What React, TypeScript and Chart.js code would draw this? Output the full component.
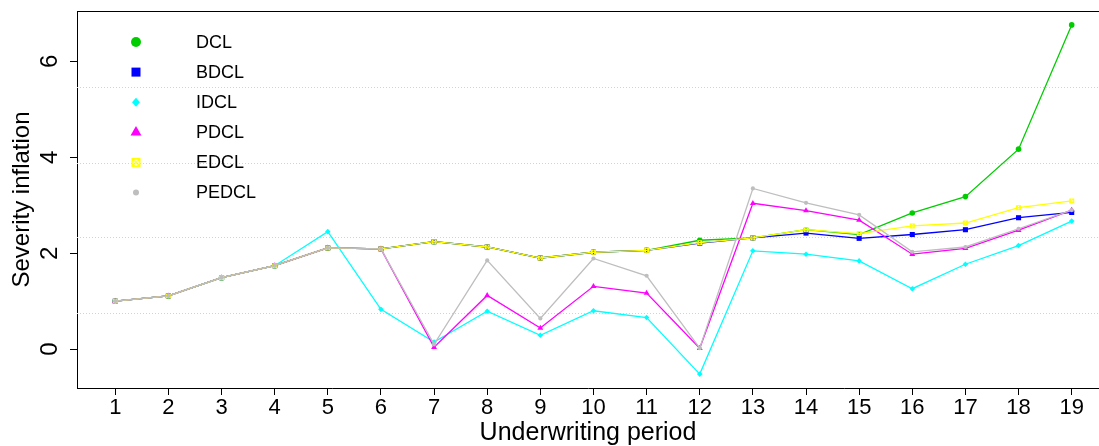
import React, { useEffect, useRef } from 'react';
import { Chart, registerables } from 'chart.js';

Chart.register(...registerables);

// ---------- data ----------
const periods = [1, 2, 3, 4, 5, 6, 7, 8, 9, 10, 11, 12, 13, 14, 15, 16, 17, 18, 19];
const xTickLabels = periods.map(String);
const yTickValues = [0, 2, 4, 6];
const gridValues = [0.76, 2.33, 3.89, 5.47];

const seriesNames = ['DCL', 'BDCL', 'IDCL', 'PDCL', 'EDCL', 'PEDCL'];
const dcl = [1.0, 1.11, 1.49, 1.74, 2.11, 2.09, 2.24, 2.13, 1.9, 2.02, 2.06, 2.27, 2.32, 2.49, 2.39, 2.84, 3.18, 4.17, 6.76];
const bdcl = [1.0, 1.11, 1.49, 1.74, 2.11, 2.09, 2.24, 2.13, 1.9, 2.02, 2.06, 2.21, 2.32, 2.42, 2.31, 2.39, 2.49, 2.74, 2.85];
const idcl = [1.0, 1.11, 1.49, 1.74, 2.45, 0.83, 0.15, 0.79, 0.29, 0.8, 0.66, -0.52, 2.05, 1.98, 1.84, 1.26, 1.77, 2.16, 2.67];
const pdcl = [1.0, 1.11, 1.49, 1.74, 2.11, 2.09, 0.04, 1.12, 0.44, 1.31, 1.17, 0.02, 3.04, 2.89, 2.69, 1.98, 2.1, 2.48, 2.9];
const edcl = [1.0, 1.11, 1.49, 1.74, 2.11, 2.09, 2.24, 2.13, 1.9, 2.02, 2.06, 2.22, 2.32, 2.49, 2.41, 2.57, 2.63, 2.95, 3.09];
const pedcl = [1.0, 1.11, 1.49, 1.74, 2.11, 2.09, 0.1, 1.85, 0.64, 1.89, 1.53, 0.02, 3.35, 3.05, 2.8, 2.03, 2.13, 2.51, 2.9];
const seriesValues = [dcl, bdcl, idcl, pdcl, edcl, pedcl];
const seriesColors = ['#00CD00', '#0000FF', '#00FFFF', '#FF00FF', '#FFFF00', '#BEBEBE'];

const FONT = "'Liberation Sans', Arial, Helvetica, sans-serif";

function makeEdclCanvas(side: number, color: string, lw: number) {
  const pad = 1;
  const size = side + pad * 2;
  const c = document.createElement('canvas');
  c.width = size;
  c.height = size;
  const ctx = c.getContext('2d')!;
  ctx.strokeStyle = color;
  ctx.lineWidth = lw;
  const a = pad + lw / 2;
  const b = size - pad - lw / 2;
  ctx.strokeRect(a, a, b - a, b - a);
  ctx.beginPath();
  ctx.arc(size / 2, size / 2, (b - a) / 2, 0, Math.PI * 2);
  ctx.stroke();
  ctx.beginPath();
  ctx.moveTo(a, a);
  ctx.lineTo(b, b);
  ctx.moveTo(b, a);
  ctx.lineTo(a, b);
  ctx.stroke();
  return c;
}

function drawLegendMarker(ctx: CanvasRenderingContext2D, idx: number, x: number, y: number, color: string) {
  ctx.save();
  ctx.fillStyle = color;
  ctx.beginPath();
  if (idx === 0) {
    ctx.arc(x, y, 5, 0, Math.PI * 2);
    ctx.fill();
  } else if (idx === 1) {
    ctx.fillRect(x - 4.5, y - 4.5, 9, 9);
  } else if (idx === 2) {
    ctx.moveTo(x, y - 4.5);
    ctx.lineTo(x + 4, y);
    ctx.lineTo(x, y + 4.5);
    ctx.lineTo(x - 4, y);
    ctx.closePath();
    ctx.fill();
  } else if (idx === 3) {
    const r = 6.3;
    ctx.moveTo(x, y - r);
    ctx.lineTo(x + r * Math.sin((2 * Math.PI) / 3), y - r * Math.cos((2 * Math.PI) / 3));
    ctx.lineTo(x + r * Math.sin((4 * Math.PI) / 3), y - r * Math.cos((4 * Math.PI) / 3));
    ctx.closePath();
    ctx.fill();
  } else if (idx === 4) {
    const c = makeEdclCanvas(9, color, 1.3);
    ctx.drawImage(c, x - c.width / 2, y - c.height / 2);
  } else {
    ctx.arc(x, y, 3, 0, Math.PI * 2);
    ctx.fill();
  }
  ctx.restore();
}

const decorPlugin = {
  id: 'decor',
  beforeDatasetsDraw(chart: any) {
    const { ctx, chartArea } = chart;
    const ys = chart.scales.y;
    ctx.save();
    ctx.strokeStyle = '#D3D3D3';
    ctx.lineWidth = 1;
    ctx.setLineDash([1, 2]);
    gridValues.forEach((v) => {
      const py = Math.round(ys.getPixelForValue(v)) + 0.5;
      ctx.beginPath();
      ctx.moveTo(chartArea.left, py);
      ctx.lineTo(chartArea.right, py);
      ctx.stroke();
    });
    ctx.restore();
  },
  afterDraw(chart: any) {
    const { ctx, chartArea } = chart;
    const ys = chart.scales.y;
    ctx.save();
    // top frame line
    ctx.strokeStyle = '#000';
    ctx.lineWidth = 1;
    ctx.beginPath();
    ctx.moveTo(chartArea.left, chartArea.top + 0.5);
    ctx.lineTo(chartArea.right, chartArea.top + 0.5);
    ctx.stroke();
    // rotated y tick labels
    ctx.fillStyle = '#000';
    ctx.font = `24px ${FONT}`;
    ctx.textAlign = 'center';
    ctx.textBaseline = 'middle';
    yTickValues.forEach((v) => {
      const py = ys.getPixelForValue(v);
      ctx.save();
      ctx.translate(chartArea.left - 27, py);
      ctx.rotate(-Math.PI / 2);
      ctx.fillText(String(v), 0, 0);
      ctx.restore();
    });
    // legend
    ctx.font = `18px ${FONT}`;
    ctx.textAlign = 'left';
    seriesNames.forEach((name, i) => {
      const ry = 42 + i * 30.1;
      drawLegendMarker(ctx, i, 136, ry, seriesColors[i]);
      ctx.fillStyle = '#000';
      ctx.fillText(name, 196, ry + 1);
    });
    ctx.restore();
  },
};

export default function App() {
  const canvasRef = useRef<HTMLCanvasElement | null>(null);

  useEffect(() => {
    if (!canvasRef.current) return;
    const plotStyles = [
      { pointStyle: 'circle', pointRadius: 2.8 },
      { pointStyle: 'rect', pointRadius: 3.6 },
      { pointStyle: 'rectRot', pointRadius: 2.8 },
      { pointStyle: 'triangle', pointRadius: 3.4 },
      { pointStyle: makeEdclCanvas(5, '#FFFF00', 1) as any, pointRadius: 3 },
      { pointStyle: 'circle', pointRadius: 2.1 },
    ];
    const datasets = seriesNames.map((name, i) => ({
      label: name,
      data: periods.map((p, j) => ({ x: p, y: seriesValues[i][j] })),
      borderColor: seriesColors[i],
      backgroundColor: seriesColors[i],
      pointBackgroundColor: seriesColors[i],
      pointBorderWidth: 0,
      borderWidth: 1.3,
      tension: 0,
      order: seriesNames.length - 1 - i,
      ...plotStyles[i],
    }));

    const chart = new Chart(canvasRef.current, {
      type: 'line',
      data: { datasets },
      options: {
        responsive: false,
        animation: false,
        events: [],
        layout: { autoPadding: false, padding: { top: 11, right: 0, left: 0, bottom: 0 } },
        plugins: { legend: { display: false }, tooltip: { enabled: false } },
        scales: {
          x: {
            type: 'linear',
            min: 0.28,
            max: 19.514,
            afterBuildTicks: (s: any) => {
              s.ticks = periods.map((v) => ({ value: v }));
            },
            afterFit: (s: any) => {
              s.height = 58;
              s.paddingLeft = 0;
              s.paddingRight = 0;
            },
            ticks: {
              autoSkip: false,
              maxRotation: 0,
              minRotation: 0,
              padding: 0,
              color: '#000',
              font: { size: 22, family: FONT },
              callback: (_v: any, idx: number) => xTickLabels[idx],
            },
            grid: { drawOnChartArea: false, drawTicks: true, tickLength: 7, color: '#000' },
            border: { display: true, color: '#000', width: 1 },
            title: {
              display: true,
              text: 'Underwriting period',
              color: '#000',
              font: { size: 25, family: FONT, lineHeight: 1 },
              padding: { top: 0, bottom: 0 },
            },
          },
          y: {
            type: 'linear',
            min: -0.81,
            max: 7.05,
            afterBuildTicks: (s: any) => {
              s.ticks = yTickValues.map((v) => ({ value: v }));
            },
            afterFit: (s: any) => {
              s.width = 77;
              s.paddingTop = 0;
              s.paddingBottom = 0;
            },
            ticks: { display: false },
            grid: { drawOnChartArea: false, drawTicks: true, tickLength: 7, color: '#000' },
            border: { display: true, color: '#000', width: 1 },
            title: {
              display: true,
              text: 'Severity inflation',
              color: '#000',
              font: { size: 24, family: FONT, lineHeight: 1 },
              padding: { top: 10, bottom: 0 },
            },
          },
        },
      },
      plugins: [decorPlugin],
    });
    return () => chart.destroy();
  }, []);

  return (
    <div style={{ position: 'absolute', left: 0, top: 0, width: 1099, height: 446, background: '#fff' }}>
      <canvas ref={canvasRef} width={1099} height={446} style={{ display: 'block' }} />
    </div>
  );
}
